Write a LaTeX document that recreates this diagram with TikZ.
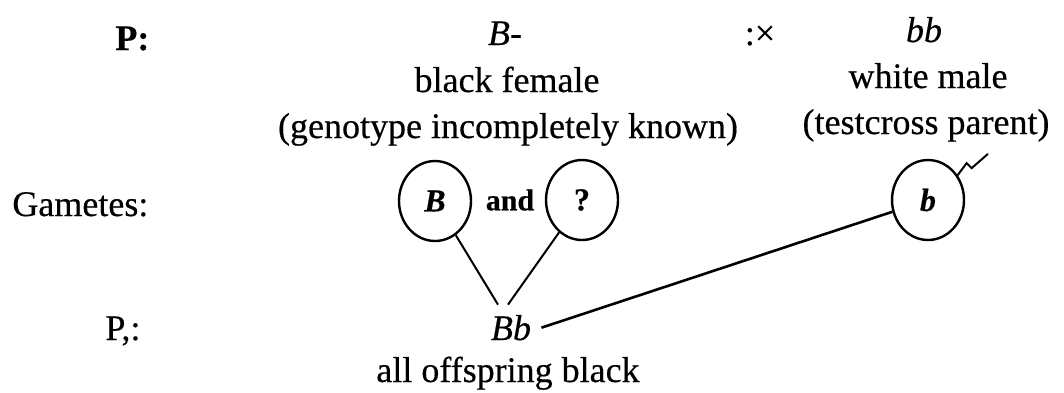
\documentclass[tikz,border=0pt]{standalone}
\usepackage{fontspec}
\setmainfont{Liberation Serif}[FakeBold=0.4]
\usetikzlibrary{shapes.geometric}

\begin{document}
\begin{tikzpicture}[x=0.5pt, y=-0.5pt,
    txt/.style={anchor=base, inner sep=0pt, font=\fontsize{18}{22}\selectfont},
    gamete/.style={draw, ellipse, line width=1.2pt, minimum width=36pt, minimum height=40pt, inner sep=0pt, font=\fontsize{16}{18}\selectfont\bfseries\itshape},
    link/.style={line width=1pt}
]
\useasboundingbox (0,0) rectangle (1064,392);

% row labels
\node[txt, anchor=base west, font=\fontsize{18}{22}\selectfont\bfseries] (plabel) at (115,50) {P:};
\node[txt, anchor=base west] (glabel) at (12,216) {Gametes:};
\node[txt, anchor=base west] (f1label) at (105,340) {P,:};

% parents
\node[txt] (fgeno) at (505,45) {\textit{B}-};
\node[txt] (fpheno) at (507,92) {black female};
\node[txt] (fnote) at (508,138) {(genotype incompletely known)};
\node[txt] (cross) at (760,45) {:×};
\node[txt] (mgeno) at (924,42) {\textit{bb}};
\node[txt] (mpheno) at (928,88) {white male};
\node[txt] (mnote) at (926,134) {(testcross parent)};

% gametes
\node[gamete] (gB) at (435,201) {B};
\node[txt, anchor=center, font=\fontsize{15}{18}\selectfont\bfseries] (and) at (510,200) {and};
\node[gamete, font=\fontsize{16}{18}\selectfont\bfseries] (gq) at (582,200) {?};
\node[gamete] (gb) at (928,200) {b};

% offspring
\node[txt, inner sep=5pt] (Bb) at (511,340) {\textit{Bb}};
\node[txt] (offspring) at (508,382) {all offspring black};

\draw[link] (gB) -- ([xshift=-6.5pt]Bb.north);
\draw[link] (gq) -- ([xshift=-1.5pt]Bb.north);
\draw[link, line width=1.3pt] (gb) -- (Bb.east);
\draw[link, line cap=round] (gb.40) -- ++(9,-12) -- ++(5,5) -- ++(16,-14);
\end{tikzpicture}
\end{document}
